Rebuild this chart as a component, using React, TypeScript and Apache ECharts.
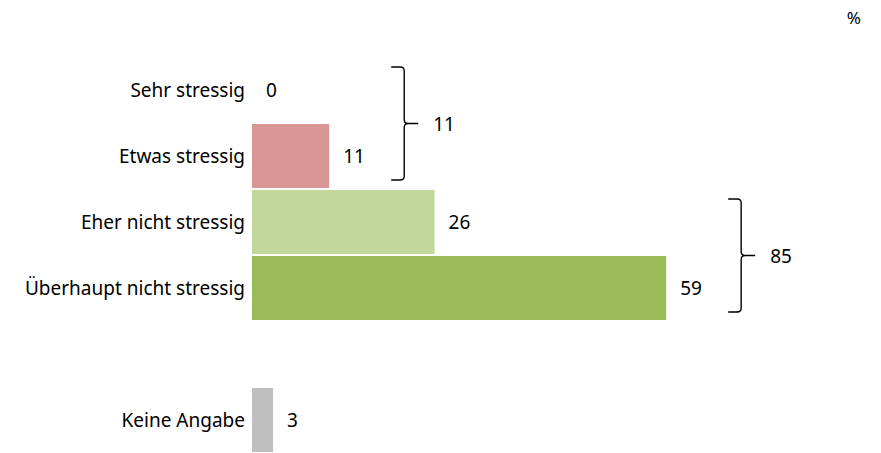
import React, { useEffect, useRef } from "react";
import * as echarts from "echarts";

const categories = [
  "Sehr stressig",
  "Etwas stressig",
  "Eher nicht stressig",
  "Überhaupt nicht stressig",
  "",
  "Keine Angabe",
];
const values: (number | null)[] = [0, 11, 26, 59, null, 3];
const barColors = ["#D99694", "#D99694", "#C4D79B", "#9BBB59", "#FFFFFF", "#BFBFBF"];
// bracket groups: [largest value in group, first row, last row, group total]
const bracketGroups = [
  [11, 0, 1, 11],
  [59, 2, 3, 85],
];
const unitLabel = "%";

const FONT = "'Noto Sans', 'DejaVu Sans', sans-serif";
const FS = 19;

export default function App() {
  const ref = useRef<HTMLDivElement>(null);
  useEffect(() => {
    if (!ref.current) return;
    const chart = echarts.init(ref.current, null, { renderer: "svg" });
    chart.setOption({
      animation: false,
      backgroundColor: "#FFFFFF",
      grid: { left: 252, top: 57, width: 596.7, height: 400.5, containLabel: false },
      xAxis: { type: "value", min: 0, max: 85, show: false },
      yAxis: {
        type: "category",
        data: categories,
        inverse: true,
        axisLine: { show: false },
        axisTick: { show: false },
        splitLine: { show: false },
        axisLabel: { color: "#000", fontSize: FS, fontFamily: FONT, margin: 7 },
      },
      graphic: [
        {
          type: "text",
          right: 20,
          top: 9,
          style: { text: unitLabel, fontSize: 17, fontFamily: FONT, fill: "#000" },
        },
      ],
      series: [
        {
          type: "bar",
          barCategoryGap: "3%",
          data: values.map((v, i) => ({ value: v, itemStyle: { color: barColors[i] } })),
          label: {
            show: true,
            position: "right",
            distance: 14,
            color: "#000",
            fontSize: FS,
            fontFamily: FONT,
            formatter: (p: any) => (p.value == null ? "" : String(p.value)),
          },
        },
        {
          type: "custom",
          clip: false,
          encode: { x: 0, y: 1 },
          data: bracketGroups,
          renderItem: (params: any, api: any) => {
            const xv = api.value(0);
            const s = api.value(1);
            const e = api.value(2);
            const total = api.value(3);
            const p0 = api.coord([xv, s]);
            const p1 = api.coord([xv, e]);
            const band = api.size([0, 1])[1];
            const x = p0[0] + 75;
            const y0 = p0[1] - band / 2 + 10;
            const y1 = p1[1] + band / 2 - 9;
            const ym = (y0 + y1) / 2;
            const d =
              `M${x - 13} ${y0} L${x - 4} ${y0} Q${x} ${y0} ${x} ${y0 + 4} ` +
              `L${x} ${ym - 4} Q${x} ${ym} ${x + 4} ${ym} L${x + 14} ${ym} ` +
              `M${x + 4} ${ym} Q${x} ${ym} ${x} ${ym + 4} ` +
              `L${x} ${y1 - 4} Q${x} ${y1} ${x - 4} ${y1} L${x - 13} ${y1}`;
            return {
              type: "group",
              children: [
                {
                  type: "path",
                  shape: { pathData: d },
                  style: { fill: "none", stroke: "#000", lineWidth: 1.4 },
                },
                {
                  type: "text",
                  x: x + 29,
                  y: ym,
                  style: {
                    text: String(total),
                    fill: "#000",
                    fontSize: FS,
                    fontFamily: FONT,
                    verticalAlign: "middle",
                    align: "left",
                  },
                },
              ],
            };
          },
        },
      ],
    });
    return () => chart.dispose();
  }, []);
  return (
    <div
      ref={ref}
      style={{ position: "absolute", left: 0, top: 0, width: 881, height: 453 }}
    />
  );
}
